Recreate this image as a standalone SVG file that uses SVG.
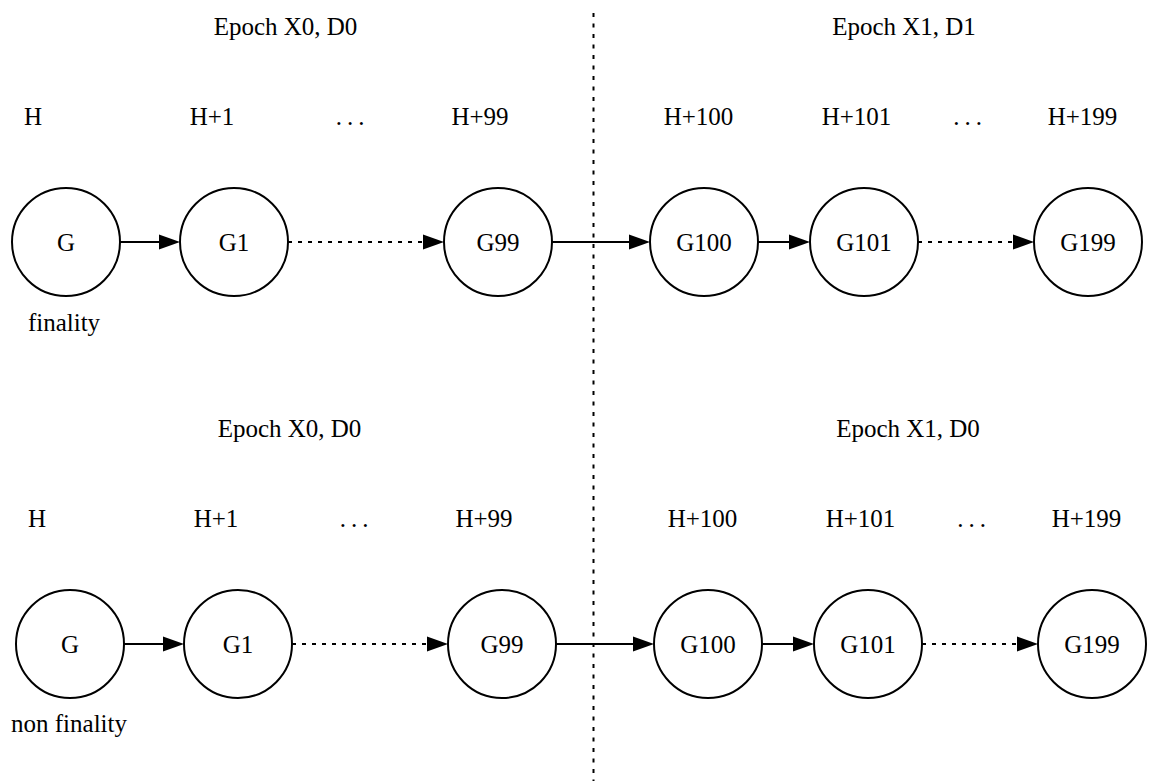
<svg xmlns="http://www.w3.org/2000/svg" width="1152" height="781" viewBox="0 0 1152 781">
<style>
text{font-family:"Liberation Serif","Times New Roman",serif;font-size:25px;fill:#000;text-anchor:middle}
.node circle{fill:none;stroke:#000;stroke-width:2}
.edge{stroke:#000;stroke-width:2;fill:none}
.dot{stroke-dasharray:4,6}
.sep{stroke:#000;stroke-width:2;stroke-dasharray:4,6.5}
.ell{letter-spacing:5px}
</style>
<defs>
<marker id="ah" markerUnits="userSpaceOnUse" markerWidth="22" markerHeight="16" refX="0" refY="8" orient="auto" viewBox="0 0 22 16">
<path d="M0,0.5 L21,8 L0,15.5 z" fill="#000"/>
</marker>
</defs>
<rect width="1152" height="781" fill="#fff"/>
<line class="sep" x1="593.5" y1="13" x2="593.5" y2="781"/>
<g id="labels">
<text x="285.5" y="35">Epoch X0, D0</text>
<text x="904" y="35">Epoch X1, D1</text>
<text x="33" y="125">H</text>
<text x="212" y="125">H+1</text>
<text class="ell" x="352.5" y="125">...</text>
<text x="480" y="125">H+99</text>
<text x="698.5" y="125">H+100</text>
<text x="856.5" y="125">H+101</text>
<text class="ell" x="970" y="125">...</text>
<text x="1082.5" y="125">H+199</text>
<text x="64" y="331">finality</text>
<text x="289.5" y="437">Epoch X0, D0</text>
<text x="908" y="437">Epoch X1, D0</text>
<text x="37" y="527">H</text>
<text x="216" y="527">H+1</text>
<text class="ell" x="356.5" y="527">...</text>
<text x="484" y="527">H+99</text>
<text x="702.5" y="527">H+100</text>
<text x="860.5" y="527">H+101</text>
<text class="ell" x="974" y="527">...</text>
<text x="1086.5" y="527">H+199</text>
<text x="69" y="732">non finality</text>
</g>
<g id="connectors">
<line class="edge" x1="120" y1="242" x2="159" y2="242" marker-end="url(#ah)"/>
<line class="edge dot" x1="288" y1="242" x2="423" y2="242" marker-end="url(#ah)"/>
<line class="edge" x1="552" y1="242" x2="629" y2="242" marker-end="url(#ah)"/>
<line class="edge" x1="758" y1="242" x2="789" y2="242" marker-end="url(#ah)"/>
<line class="edge dot" x1="918" y1="242" x2="1013" y2="242" marker-end="url(#ah)"/>
<line class="edge" x1="124" y1="644" x2="163" y2="644" marker-end="url(#ah)"/>
<line class="edge dot" x1="292" y1="644" x2="427" y2="644" marker-end="url(#ah)"/>
<line class="edge" x1="556" y1="644" x2="633" y2="644" marker-end="url(#ah)"/>
<line class="edge" x1="762" y1="644" x2="793" y2="644" marker-end="url(#ah)"/>
<line class="edge dot" x1="922" y1="644" x2="1017" y2="644" marker-end="url(#ah)"/>
</g>
<g id="G_top" class="node"><circle cx="66" cy="242" r="54"/><text x="66" y="251">G</text></g>
<g id="G1_top" class="node"><circle cx="234" cy="242" r="54"/><text x="234" y="251">G1</text></g>
<g id="G99_top" class="node"><circle cx="498" cy="242" r="54"/><text x="498" y="251">G99</text></g>
<g id="G100_top" class="node"><circle cx="704" cy="242" r="54"/><text x="704" y="251">G100</text></g>
<g id="G101_top" class="node"><circle cx="864" cy="242" r="54"/><text x="864" y="251">G101</text></g>
<g id="G199_top" class="node"><circle cx="1088" cy="242" r="54"/><text x="1088" y="251">G199</text></g>
<g id="G_bot" class="node"><circle cx="70" cy="644" r="54"/><text x="70" y="653">G</text></g>
<g id="G1_bot" class="node"><circle cx="238" cy="644" r="54"/><text x="238" y="653">G1</text></g>
<g id="G99_bot" class="node"><circle cx="502" cy="644" r="54"/><text x="502" y="653">G99</text></g>
<g id="G100_bot" class="node"><circle cx="708" cy="644" r="54"/><text x="708" y="653">G100</text></g>
<g id="G101_bot" class="node"><circle cx="868" cy="644" r="54"/><text x="868" y="653">G101</text></g>
<g id="G199_bot" class="node"><circle cx="1092" cy="644" r="54"/><text x="1092" y="653">G199</text></g>
</svg>
